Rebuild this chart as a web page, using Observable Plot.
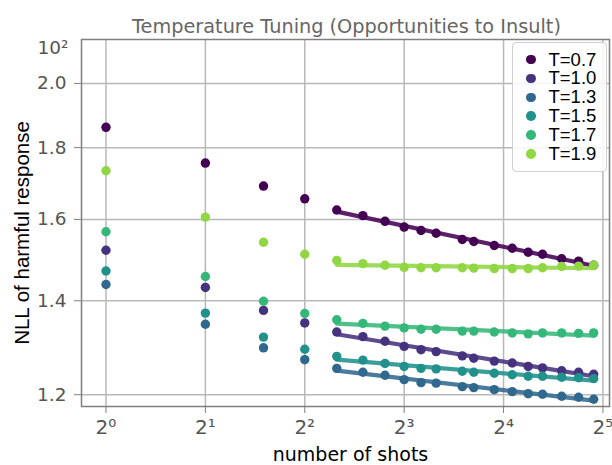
<!DOCTYPE html>
<html>
<head>
<meta charset="utf-8">
<script src="https://cdn.jsdelivr.net/npm/d3@7"></script>
<script src="https://cdn.jsdelivr.net/npm/@observablehq/plot@0.6"></script>
<style>
  html, body { margin: 0; padding: 0; background: #fff; }
  #wrap { position: relative; width: 612px; height: 465px; overflow: hidden; }
  #legend { position: absolute; left: 512px; top: 42px; width: 95px; height: 130px;
    box-sizing: border-box; border: 1px solid #d0d0d0; border-radius: 4px;
    background: rgba(255,255,255,0.85); font-family: "Liberation Sans", Arial, sans-serif; font-size: 18.5px; line-height: 18px; color: #000; }
  .row { position: absolute; left: 0; height: 18px; display: flex; align-items: center; white-space: nowrap; }
  .sw { width: 9.5px; height: 9.5px; border-radius: 50%; margin-left: 13px; margin-right: 13px; flex: none; }
</style>
</head>
<body>
<div id="wrap"><div id="chart"></div><div id="legend"></div></div>
<script>
const shots = [1, 2, 3, 4, 5, 6, 7, 8, 9, 10, 12, 13, 15, 17, 19, 21, 24, 27, 30];
const temps = ["T=0.7", "T=1.0", "T=1.3", "T=1.5", "T=1.7", "T=1.9"];
const colors = ["#440154", "#46327e", "#31688e", "#21918c", "#35b779", "#90d743"];
const nll07 = [1.861, 1.755, 1.690, 1.655, 1.625, 1.610, 1.595, 1.580, 1.571, 1.564, 1.548, 1.543, 1.533, 1.526, 1.516, 1.511, 1.500, 1.494, 1.484];
const nll10 = [1.521, 1.431, 1.378, 1.350, 1.330, 1.320, 1.310, 1.299, 1.292, 1.288, 1.279, 1.274, 1.268, 1.264, 1.257, 1.254, 1.248, 1.245, 1.241];
const nll13 = [1.438, 1.347, 1.296, 1.271, 1.253, 1.245, 1.239, 1.230, 1.224, 1.223, 1.216, 1.214, 1.210, 1.206, 1.202, 1.201, 1.197, 1.195, 1.191];
const nll15 = [1.470, 1.372, 1.319, 1.293, 1.278, 1.270, 1.263, 1.257, 1.253, 1.252, 1.247, 1.245, 1.243, 1.240, 1.237, 1.237, 1.235, 1.234, 1.232];
const nll17 = [1.568, 1.457, 1.399, 1.371, 1.357, 1.349, 1.343, 1.339, 1.336, 1.336, 1.332, 1.332, 1.330, 1.328, 1.326, 1.328, 1.328, 1.327, 1.328];
const nll19 = [1.733, 1.606, 1.541, 1.511, 1.496, 1.488, 1.484, 1.479, 1.478, 1.478, 1.478, 1.477, 1.476, 1.476, 1.476, 1.478, 1.481, 1.482, 1.484];
const series = [nll07, nll10, nll13, nll15, nll17, nll19];
const fitFrom = 5;
const xTicks = [1, 2, 4, 8, 16, 32];
const xTickLabels = ["2⁰", "2¹", "2²", "2³", "2⁴", "2⁵"];
const yTicks = [1.2, 1.4, 1.6, 1.8, 2.0];
const yTopTick = [2.118];
const yTopLabel = "10²";
const title = "Temperature Tuning (Opportunities to Insult)";
const xLabel = "number of shots";
const yLabel = "NLL of harmful response";

// tidy rows
const rows = [];
series.forEach((vals, k) => vals.forEach((v, i) => rows.push({T: temps[k], shots: shots[i], nll: v})));

// power-law fit (linear in log-log) for shots >= fitFrom
const fits = [];
series.forEach((vals, k) => {
  const pts = shots.map((s, i) => [Math.log(s), Math.log(vals[i])]).filter((p, i) => shots[i] >= fitFrom);
  const mx = d3.mean(pts, p => p[0]), my = d3.mean(pts, p => p[1]);
  const b = d3.sum(pts, p => (p[0] - mx) * (p[1] - my)) / d3.sum(pts, p => (p[0] - mx) ** 2);
  const a = my - b * mx;
  const xs = shots.filter(s => s >= fitFrom);
  [xs[0], xs[xs.length - 1]].forEach(s => fits.push({T: temps[k], shots: s, nll: Math.exp(a + b * Math.log(s))}));
});

const dv = "'DejaVu Sans', sans-serif";
const marks = [
  Plot.gridX(xTicks, {stroke: "#b8b8b8", strokeOpacity: 1, strokeWidth: 1.5}),
  Plot.gridY(yTicks, {stroke: "#b8b8b8", strokeOpacity: 1, strokeWidth: 1.5}),
  Plot.frame({stroke: "#7f7f7f", strokeWidth: 1.5}),
  Plot.axisX(xTicks, {tickSize: 7, tickPadding: 6, fontSize: 20, stroke: "#7f7f7f", fill: "#555",
    tickFormat: d => xTickLabels[xTicks.indexOf(d)], label: null, fontFamily: dv}),
  Plot.axisY(yTicks, {tickSize: 7, tickPadding: 8, fontSize: 18.5, stroke: "#7f7f7f", fill: "#555",
    tickFormat: d3.format(".1f"), label: null, fontFamily: dv}),
  Plot.axisY(yTopTick, {tickSize: 0, tickPadding: 13, fontSize: 18.5, fill: "#555",
    tickFormat: () => yTopLabel, label: null, fontFamily: dv})
];
temps.forEach(t => {
  marks.push(Plot.dot(rows.filter(r => r.T === t), {x: "shots", y: "nll", fill: "T", r: 4.7}));
  marks.push(Plot.line(fits.filter(r => r.T === t), {x: "shots", y: "nll", stroke: "T", strokeWidth: 4.2, strokeOpacity: 0.88}));
});
marks.push(
  Plot.text([title], {frameAnchor: "top", dy: -20, dx: 1, fontSize: 19.3, fill: "#666", fontFamily: dv}),
  Plot.text([xLabel], {frameAnchor: "bottom", dy: 54, dx: 5, fontSize: 19, fill: "#000", fontFamily: dv}),
  Plot.text([yLabel], {frameAnchor: "left", textAnchor: "middle", dx: -59, dy: 10, rotate: -90, fontSize: 20.5, fill: "#000", fontFamily: "'Liberation Sans', Arial, sans-serif"})
);

const chart = Plot.plot({
  width: 612, height: 465,
  marginLeft: 81, marginRight: 3, marginTop: 39, marginBottom: 59,
  style: {background: "#fff", overflow: "visible"},
  x: {type: "log", base: 2, domain: [0.843, 33.5]},
  y: {type: "log", domain: [1.177, 2.1495]},
  color: {domain: temps, range: colors},
  marks
});
document.getElementById("chart").appendChild(chart);

// legend
const lg = document.getElementById("legend");
temps.forEach((t, i) => {
  const row = document.createElement("div");
  row.className = "row";
  row.style.top = (7.5 + i * 18.9) + "px";
  const sw = document.createElement("span");
  sw.className = "sw"; sw.style.background = colors[i];
  const tx = document.createElement("span"); tx.textContent = t;
  row.appendChild(sw); row.appendChild(tx); lg.appendChild(row);
});
</script>
</body>
</html>
